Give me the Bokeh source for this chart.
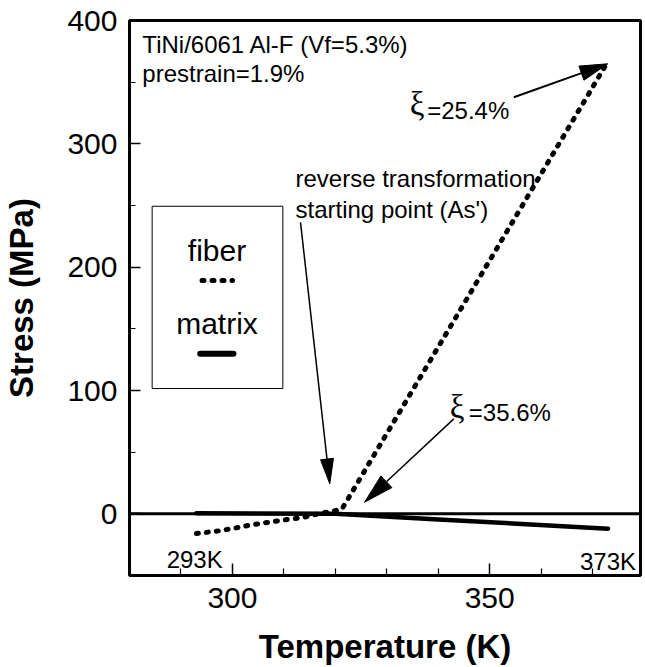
from bokeh.plotting import figure
from bokeh.models import Range1d, FixedTicker, Span, BoxAnnotation
from bokeh.core.properties import value
from bokeh.embed import file_html
from bokeh.resources import INLINE

# ---- data ----
fiber_T = [293, 297, 300, 303, 306, 310, 314, 317.5, 319.5, 321.3, 373]
fiber_S = [-16, -14, -12, -9.5, -7.5, -5, -2.7, 0.8, 2, 4, 367]
matrix_T = [293, 320, 340, 373]
matrix_S = [0.5, 0, -4.5, -12]

x_ticks = [300, 350]
x_minor = [290, 310, 320, 330, 340, 360, 370]
y_ticks = [0, 100, 200, 300, 400]
y_minor = [50, 150, 250, 350]

X0, X1 = 280, 379.3
Y0, Y1 = -50, 400
W, H = 645, 667
ML, MR, MT, MB = 129, 5, 20, 91
FW = W - ML - MR
FH = H - MT - MB
SX = FW / (X1 - X0)
SY = FH / (Y1 - Y0)
DY = 5 / SY  # small upward nudge for text baselines (pixels -> data)

FONT = value("Liberation Sans")

p = figure(width=W, height=H, x_range=Range1d(X0, X1), y_range=Range1d(Y0, Y1),
           output_backend="svg", toolbar_location=None,
           min_border_left=ML, min_border_right=MR, min_border_top=MT, min_border_bottom=MB)

p.grid.visible = False
p.background_fill_color = "white"
p.border_fill_color = "white"
p.outline_line_color = "black"
p.outline_line_width = 3

# axes
p.xaxis.ticker = FixedTicker(ticks=x_ticks, minor_ticks=x_minor)
p.yaxis.ticker = FixedTicker(ticks=y_ticks, minor_ticks=y_minor)
for ax in (p.xaxis[0], p.yaxis[0]):
    ax.axis_line_color = None
    ax.major_tick_out = 0
    ax.minor_tick_out = 0
    ax.major_tick_line_color = "black"
    ax.minor_tick_line_color = "black"
    ax.major_tick_line_width = 1.5
    ax.minor_tick_line_width = 1.2
    ax.major_label_text_font = "Liberation Sans"
    ax.major_label_text_font_size = "30px"
    ax.major_label_text_color = "black"
    ax.axis_label_text_font = "Liberation Sans"
    ax.axis_label_text_font_style = "bold"
    ax.axis_label_text_font_size = "33px"
    ax.axis_label_text_color = "black"
    ax.major_label_standoff = 12

p.xaxis.major_tick_in = 12
p.xaxis.minor_tick_in = 7
p.yaxis.major_tick_in = 11
p.yaxis.minor_tick_in = 6
p.xaxis.axis_label = "Temperature (K)"
p.xaxis.axis_label_standoff = 17
p.yaxis.axis_label = "Stress (MPa)"
p.yaxis.axis_label_standoff = 24

# zero line
p.add_layout(Span(location=0, dimension="width", line_color="black", line_width=3))

# series
p.line(matrix_T, matrix_S, line_color="black", line_width=4.5, line_cap="round")
p.line(fiber_T, fiber_S, line_color="black", line_width=5, line_dash="2 8", line_cap="round")

# legend box (drawn by hand, as in the reference)
p.add_layout(BoxAnnotation(left=284.4, right=309.8, bottom=101.6, top=249.4,
                           fill_alpha=0, line_color="black", line_alpha=1, line_width=1))
p.text(x=[297.0, 297.0], y=[209.4 + DY, 150.0 + DY], text=["fiber", "matrix"],
       text_font=FONT, text_font_size=value("30px"), text_align="center",
       text_baseline="alphabetic", text_color="black")
p.line([294.09, 300.02], [189.2, 189.2], line_color="black", line_width=5,
       line_dash="2 8", line_cap="round")
p.line([293.74, 300.21], [129.7, 129.7], line_color="black", line_width=6, line_cap="round")

# annotation texts
p.text(x=[282.5, 282.5], y=[376.2 + DY, 352.7 + DY],
       text=["TiNi/6061 Al-F (Vf=5.3%)", "prestrain=1.9%"],
       text_font=FONT, text_font_size=value("24px"), text_align="left",
       text_baseline="alphabetic", text_color="black")
p.text(x=[312.26, 312.26], y=[267.6 + DY, 242.7 + DY],
       text=["reverse transformation", "starting point (As')"],
       text_font=FONT, text_font_size=value("24px"), text_align="left",
       text_baseline="alphabetic", text_color="black")
p.text(x=[337.85, 345.94], y=[323.0 + DY, 78.3 + DY], text=["=25.4%", "=35.6%"],
       text_font=FONT, text_font_size=value("24px"), text_align="left",
       text_baseline="alphabetic", text_color="black")
p.text(x=[335.87, 343.68], y=[328.2 + DY, 82.3 + DY], text=["ξ", "ξ"],
       text_font=value("Liberation Serif"), text_font_size=value("33px"), text_align="center",
       text_baseline="alphabetic", text_color="black")
p.text(x=[292.67, 372.98], y=[-41.1 + DY, -42.3 + DY], text=["293K", "373K"],
       text_font=FONT, text_font_size=value("24px"), text_align="center",
       text_baseline="alphabetic", text_color="black")


def arrow(x0, y0, x1, y1, L, Wd, lw):
    dx = (x1 - x0) * SX
    dy = (y1 - y0) * SY
    d = (dx * dx + dy * dy) ** 0.5
    ux, uy = dx / d, dy / d
    bx = x1 - ux * L / SX
    by = y1 - uy * L / SY
    qx, qy = -uy * Wd / 2, ux * Wd / 2
    p.line([x0, bx], [y0, by], line_color="black", line_width=lw)
    p.patch([x1, bx + qx / SX, bx - qx / SX], [y1, by + qy / SY, by - qy / SY],
            fill_color="black", line_color="black", line_width=1)


arrow(354.68, 337.8, 372.95, 364.9, 28, 15, 2)
arrow(313.23, 236.4, 318.92, 24.3, 25, 13, 1.5)
arrow(343.02, 77.0, 325.67, 9.4, 30, 16, 1.5)

open("out.html", "w").write(file_html(p, INLINE))
